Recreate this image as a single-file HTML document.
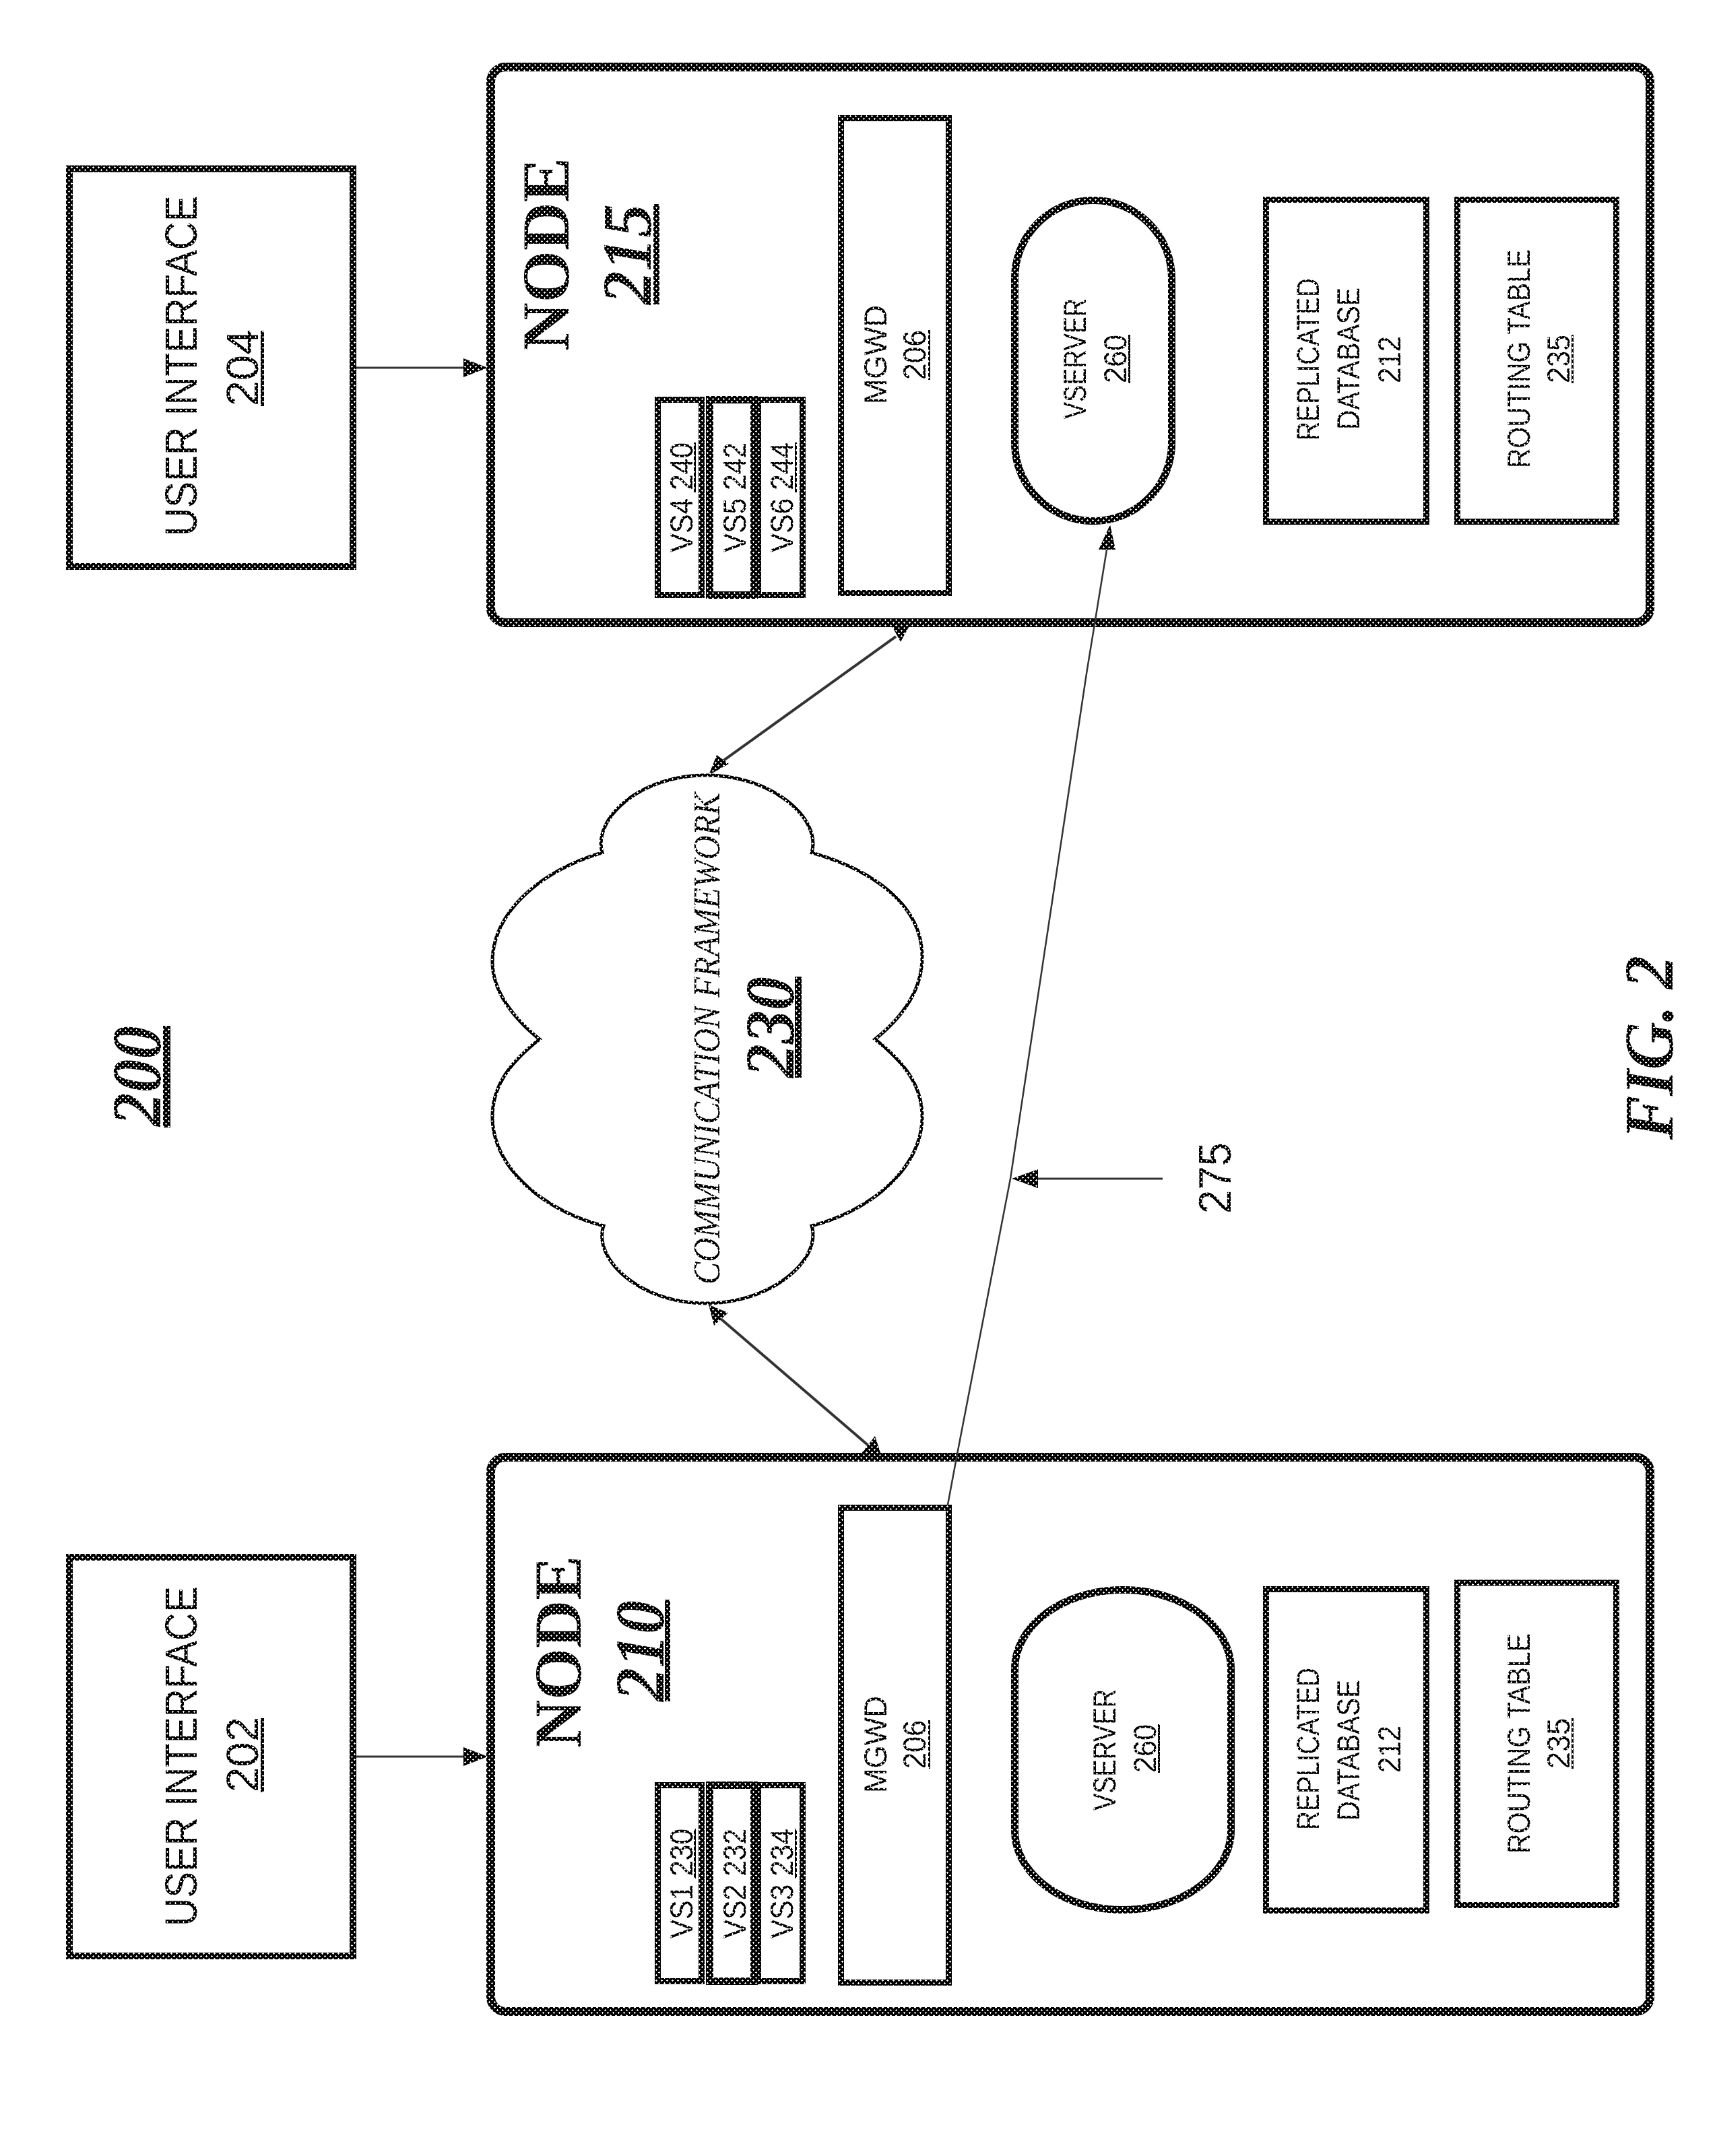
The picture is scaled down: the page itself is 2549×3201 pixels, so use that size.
<!DOCTYPE html>
<html><head><meta charset="utf-8"><style>
html,body{margin:0;padding:0;background:#fff}
svg{display:block}
.s{font-family:"Liberation Sans",sans-serif}
.u{font-size:67px}.m{font-size:47px}
.b{font-family:"Liberation Serif",serif;font-weight:bold}
.bi{font-family:"Liberation Serif",serif;font-weight:bold;font-style:italic;font-size:104px}
text{fill:url(#h)}
</style></head><body>
<svg xmlns="http://www.w3.org/2000/svg" width="2549" height="3201" viewBox="0 0 2549 3201">
<defs>
<pattern id="h" patternUnits="userSpaceOnUse" width="8" height="8">
<rect width="8" height="8" fill="#000"/>
<g fill="#fff" shape-rendering="crispEdges">
<rect x="1" y="0" width="3" height="1"/><rect x="2" y="1" width="1" height="1"/><rect x="2" y="7" width="1" height="1"/>
<rect x="5" y="4" width="3" height="1"/><rect x="6" y="3" width="1" height="3"/>
</g>
</pattern>
</defs>
<rect width="2549" height="3201" fill="#fff"/>

<!-- User interfaces -->
<rect x="103" y="250.500" width="421" height="590.500" fill="#fff" stroke="url(#h)" stroke-width="10"/>
<rect x="103" y="2312" width="421" height="592" fill="#fff" stroke="url(#h)" stroke-width="10"/>

<!-- Node 215 -->
<rect x="728.500" y="99.500" width="1721" height="825" rx="22" fill="#fff" stroke="url(#h)" stroke-width="13"/>
<rect x="976.500" y="593.500" width="65" height="290" fill="#fff" stroke="url(#h)" stroke-width="9"/>
<rect x="1053.500" y="593.500" width="66" height="290" fill="#fff" stroke="url(#h)" stroke-width="11"/>
<rect x="1125.500" y="593.500" width="66" height="290" fill="none" stroke="url(#h)" stroke-width="9"/>
<rect x="1248.500" y="175.500" width="160" height="705" fill="#fff" stroke="url(#h)" stroke-width="9"/>
<rect x="1506.500" y="297.500" width="233" height="476" rx="116" ry="116" fill="#fff" stroke="url(#h)" stroke-width="11"/>
<rect x="1879.500" y="296.500" width="238" height="478" fill="#fff" stroke="url(#h)" stroke-width="9"/>
<rect x="2163.500" y="296.500" width="236" height="478" fill="#fff" stroke="url(#h)" stroke-width="9"/>

<!-- Node 210 -->
<rect x="728.500" y="2163.500" width="1721" height="823" rx="22" fill="#fff" stroke="url(#h)" stroke-width="13"/>
<rect x="976.500" y="2650.500" width="65" height="291" fill="#fff" stroke="url(#h)" stroke-width="9"/>
<rect x="1053.500" y="2650.500" width="66" height="291" fill="#fff" stroke="url(#h)" stroke-width="11"/>
<rect x="1125.500" y="2650.500" width="66" height="291" fill="none" stroke="url(#h)" stroke-width="9"/>
<rect x="1248.500" y="2238.500" width="160" height="705" fill="#fff" stroke="url(#h)" stroke-width="9"/>
<rect x="1506.500" y="2360.500" width="321" height="475" rx="160" ry="118" fill="#fff" stroke="url(#h)" stroke-width="11"/>
<rect x="1879.500" y="2359.500" width="238" height="477" fill="#fff" stroke="url(#h)" stroke-width="9"/>
<rect x="2163.500" y="2350" width="236" height="478.500" fill="#fff" stroke="url(#h)" stroke-width="9"/>

<!-- Cloud -->
<path d="M894,1266 C880,1215 950,1151 1048,1151 C1146,1151 1220,1215 1205,1266 C1290,1290 1369,1340 1369,1421 C1369,1470 1340,1510 1299,1543 C1340,1575 1369,1610 1369,1658 C1369,1730 1300,1795 1205,1820 C1220,1870 1146,1935 1048,1935 C950,1935 880,1870 896,1820 C800,1795 731,1730 731,1658 C731,1610 760,1575 801,1543 C760,1510 731,1470 731,1428 C731,1350 810,1290 894,1266 Z" fill="#fff" stroke="url(#h)" stroke-width="5"/>

<!-- Connectors -->
<g fill="none" stroke="#333">
<line x1="529" y1="546" x2="695" y2="546" stroke-width="3"/>
<line x1="529" y1="2608" x2="695" y2="2608" stroke-width="3"/>
<line x1="1330" y1="945" x2="1070" y2="1132" stroke-width="4"/>
<line x1="1070" y1="1958" x2="1289" y2="2146" stroke-width="4"/>
<path d="M1407,2234 L1421,2159 L1500,1750 L1613,1000 L1644,810" stroke-width="2.500"/>
<line x1="1535" y1="1750" x2="1726" y2="1750" stroke-width="3"/>
</g>
<g fill="url(#h)">
<polygon points="724,546 688,532 688,560"/>
<polygon points="724,2608 688,2594 688,2622"/>
<polygon points="1349,931 1325,931 1337,953"/>
<polygon points="1052,1151 1064,1121 1082,1134"/>
<polygon points="1052,1937 1081,1949 1060,1968"/>
<polygon points="1309,2163 1299,2132 1278,2159"/>
<polygon points="1648,779 1631,816 1656,816"/>
<polygon points="1502,1750 1541,1736 1541,1764"/>
</g>

<!-- Top: UI 204 -->
<text class="s u" transform="translate(292,796) rotate(-90)" textLength="506" lengthAdjust="spacingAndGlyphs">USER INTERFACE</text>
<text class="s u" transform="translate(383,603) rotate(-90)" textLength="114" lengthAdjust="spacingAndGlyphs">204</text>
<rect x="387" y="491" width="5" height="112" fill="url(#h)"/>

<!-- Node 215 labels -->
<text class="b" style="font-size:100px" transform="translate(844,521) rotate(-90)" textLength="287" lengthAdjust="spacingAndGlyphs">NODE</text>
<text class="bi" transform="translate(966,452) rotate(-90)" textLength="149" lengthAdjust="spacingAndGlyphs">215</text>
<rect x="970" y="303" width="9" height="149" fill="url(#h)"/>
<text class="s m" transform="translate(1028,820) rotate(-90)" textLength="163" lengthAdjust="spacingAndGlyphs">VS4 240</text>
<rect x="1030" y="657" width="3" height="74" fill="url(#h)"/>
<text class="s m" transform="translate(1107,820) rotate(-90)" textLength="163" lengthAdjust="spacingAndGlyphs">VS5 242</text>
<text class="s m" transform="translate(1177,820) rotate(-90)" textLength="163" lengthAdjust="spacingAndGlyphs">VS6 244</text>
<rect x="1180" y="657" width="3" height="74" fill="url(#h)"/>
<text class="s m" transform="translate(1316,600) rotate(-90)" textLength="147" lengthAdjust="spacingAndGlyphs">MGWD</text>
<text class="s m" transform="translate(1374,564) rotate(-90)" textLength="74" lengthAdjust="spacingAndGlyphs">206</text>
<rect x="1378" y="490" width="3" height="74" fill="url(#h)"/>
<text class="s m" transform="translate(1612,622) rotate(-90)" textLength="179" lengthAdjust="spacingAndGlyphs">VSERVER</text>
<text class="s m" transform="translate(1672,569) rotate(-90)" textLength="72" lengthAdjust="spacingAndGlyphs">260</text>
<rect x="1675" y="497" width="3" height="72" fill="url(#h)"/>
<text class="s m" transform="translate(1958,654) rotate(-90)" textLength="241" lengthAdjust="spacingAndGlyphs">REPLICATED</text>
<text class="s m" transform="translate(2018,638) rotate(-90)" textLength="211" lengthAdjust="spacingAndGlyphs">DATABASE</text>
<text class="s m" transform="translate(2079,569) rotate(-90)" textLength="70" lengthAdjust="spacingAndGlyphs">212</text>
<text class="s m" transform="translate(2271,695) rotate(-90)" textLength="325" lengthAdjust="spacingAndGlyphs">ROUTING TABLE</text>
<text class="s m" transform="translate(2330,569) rotate(-90)" textLength="72" lengthAdjust="spacingAndGlyphs">235</text>
<rect x="2333" y="497" width="3" height="72" fill="url(#h)"/>

<!-- Cloud labels -->
<text style="font-family:'Liberation Serif',serif;font-style:italic;font-size:56px" transform="translate(1068,1907) rotate(-90)" textLength="730" lengthAdjust="spacingAndGlyphs">COMMUNICATION FRAMEWORK</text>
<text class="bi" transform="translate(1178,1600) rotate(-90)" textLength="150" lengthAdjust="spacingAndGlyphs">230</text>
<rect x="1180" y="1450" width="10" height="150" fill="url(#h)"/>

<!-- 200, 275, FIG -->
<text class="bi" transform="translate(238,1672) rotate(-90)" textLength="149" lengthAdjust="spacingAndGlyphs">200</text>
<rect x="242" y="1523" width="11" height="151" fill="url(#h)"/>
<text class="s u" style="font-size:68px" transform="translate(1827,1802) rotate(-90)" textLength="106" lengthAdjust="spacingAndGlyphs">275</text>
<text class="bi" transform="translate(2483,1692) rotate(-90)" textLength="273" lengthAdjust="spacingAndGlyphs">FIG. 2</text>

<!-- Bottom: UI 202 -->
<text class="s u" transform="translate(292,2860) rotate(-90)" textLength="505" lengthAdjust="spacingAndGlyphs">USER INTERFACE</text>
<text class="s u" transform="translate(383,2661) rotate(-90)" textLength="112" lengthAdjust="spacingAndGlyphs">202</text>
<rect x="387" y="2551" width="5" height="110" fill="url(#h)"/>

<!-- Node 210 labels -->
<text class="b" style="font-size:100px" transform="translate(862,2595) rotate(-90)" textLength="285" lengthAdjust="spacingAndGlyphs">NODE</text>
<text class="bi" transform="translate(985,2526) rotate(-90)" textLength="150" lengthAdjust="spacingAndGlyphs">210</text>
<rect x="987" y="2375" width="8" height="151" fill="url(#h)"/>
<text class="s m" transform="translate(1028,2878) rotate(-90)" textLength="163" lengthAdjust="spacingAndGlyphs">VS1 230</text>
<rect x="1030" y="2715" width="3" height="74" fill="url(#h)"/>
<text class="s m" transform="translate(1107,2878) rotate(-90)" textLength="163" lengthAdjust="spacingAndGlyphs">VS2 232</text>
<text class="s m" transform="translate(1177,2878) rotate(-90)" textLength="163" lengthAdjust="spacingAndGlyphs">VS3 234</text>
<rect x="1180" y="2715" width="3" height="74" fill="url(#h)"/>
<text class="s m" transform="translate(1316,2662) rotate(-90)" textLength="144" lengthAdjust="spacingAndGlyphs">MGWD</text>
<text class="s m" transform="translate(1374,2626) rotate(-90)" textLength="72" lengthAdjust="spacingAndGlyphs">206</text>
<rect x="1378" y="2554" width="3" height="72" fill="url(#h)"/>
<text class="s m" transform="translate(1656,2688) rotate(-90)" textLength="180" lengthAdjust="spacingAndGlyphs">VSERVER</text>
<text class="s m" transform="translate(1716,2632) rotate(-90)" textLength="72" lengthAdjust="spacingAndGlyphs">260</text>
<rect x="1719" y="2560" width="3" height="72" fill="url(#h)"/>
<text class="s m" transform="translate(1958,2717) rotate(-90)" textLength="241" lengthAdjust="spacingAndGlyphs">REPLICATED</text>
<text class="s m" transform="translate(2018,2703) rotate(-90)" textLength="209" lengthAdjust="spacingAndGlyphs">DATABASE</text>
<text class="s m" transform="translate(2079,2632) rotate(-90)" textLength="70" lengthAdjust="spacingAndGlyphs">212</text>
<text class="s m" transform="translate(2271,2752) rotate(-90)" textLength="327" lengthAdjust="spacingAndGlyphs">ROUTING TABLE</text>
<text class="s m" transform="translate(2330,2626) rotate(-90)" textLength="75" lengthAdjust="spacingAndGlyphs">235</text>
<rect x="2333" y="2551" width="3" height="75" fill="url(#h)"/>
</svg>
</body></html>
